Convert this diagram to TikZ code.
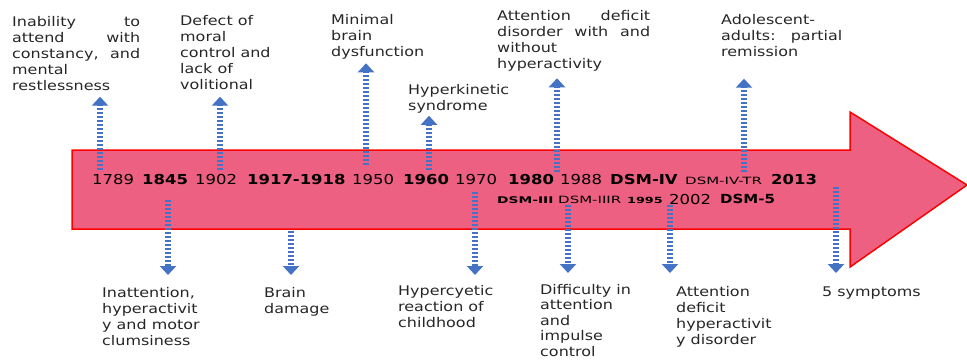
\documentclass[tikz,border=0pt]{standalone}
\usepackage{fontspec}
\setmainfont{DejaVu Sans}[FakeStretch=1.2]
\newfontfamily\scfont{DejaVu Sans}[FakeStretch=1.5]
\usetikzlibrary{arrows.meta}
\definecolor{tlpink}{RGB}{238,96,130}
\definecolor{dotblue}{RGB}{68,114,196}

\begin{document}
\begin{tikzpicture}[x=1pt,y=-1pt,
   lbl/.style={anchor=north west,inner sep=0pt,align=left,text=black!85,font=\fontsize{13.3}{16}\selectfont},
   yr/.style={anchor=base west,inner sep=0pt,font=\fontsize{13.7}{16}\selectfont},
   byr/.style={yr,font=\fontsize{13.7}{16}\selectfont\bfseries},
   dsm/.style={anchor=base west,inner sep=0pt,font=\scfont\fontsize{10}{12}\selectfont},
   bdsm/.style={dsm,font=\scfont\fontsize{9.2}{12}\selectfont\bfseries},
   dotarrow/.style={draw=dotblue,line width=5.5pt,dash pattern=on 2pt off 2pt,
      -{Triangle[width=16pt,length=9pt]},shorten >=#1},
   dotarrow/.default=6pt]
\useasboundingbox (0,0) rectangle (967,360);

% timeline arrow
\draw[fill=tlpink,draw=red,line width=1.5pt] (72,150) -- (850,150) -- (850,112) -- (967,185)
   -- (850,267) -- (850,229) -- (72,229) -- cycle;

% years
\node[yr]  (y1789) at (92,184)  {1789};
\node[byr] (y1845) at (142,184) {1845};
\node[yr]  (y1902) at (195,184) {1902};
\node[byr] (y1917) at (247,184) {1917-1918};
\node[yr]  (y1950) at (352,184) {1950};
\node[byr] (y1960) at (403,184) {1960};
\node[yr]  (y1970) at (455,184) {1970};
\node[byr] (y1980) at (508,184) {1980};
\node[yr]  (y1988) at (560,184) {1988};
\node[byr] (dsmiv) at (610,184) {DSM-IV};
\node[dsm] (dsmivtr) at (685,184) {DSM-IV-TR};
\node[byr] (y2013) at (771,184) {2013};
\node[bdsm] (dsmiii) at (497,203) {DSM-III};
\node[dsm] (dsmiiir) at (558,203) {DSM-IIIR};
\node[bdsm,font=\scfont\fontsize{8.5}{12}\selectfont\bfseries] (y1995) at (627,203) {1995};
\node[yr]  (y2002) at (669,204) {2002};
\node[byr,font=\fontsize{12.5}{16}\selectfont\bfseries] (dsm5) at (720,203) {DSM-5};

% labels above
\node[lbl,text width=128pt] (t1) at (12,16) {Inability\hfill to\\attend\hfill with\\constancy,\hfill and\\mental\\restlessness};
\node[lbl] (t2) at (180,15) {Defect of\\moral\\control and\\lack of\\volitional};
\node[lbl] (t3) at (331,14) {Minimal\\brain\\dysfunction};
\node[lbl] (t4) at (408,84.5) {Hyperkinetic\\syndrome};
\node[lbl,text width=153pt] (t5) at (497,10) {Attention\hfill deficit\\disorder\hfill with\hfill and\\without\\hyperactivity};
\node[lbl,text width=121pt] (t6) at (721,14) {Adolescent-\\adults:\hfill partial\\remission};

% labels below
\node[lbl] (b1) at (102,287) {Inattention,\\hyperactivit\\y and motor\\clumsiness};
\node[lbl] (b2) at (264,287) {Brain\\damage};
\node[lbl] (b3) at (398,285) {Hypercyetic\\reaction of\\childhood};
\node[lbl,font=\fontsize{13.3}{15.5}\selectfont] (b4) at (540,284) {Difficulty in\\attention\\and\\impulse\\control};
\node[lbl] (b5) at (676,286) {Attention\\deficit\\hyperactivit\\y disorder};
\node[lbl] (b6) at (822,287) {5 symptoms};

% arrows
\coordinate (u1) at (100,170);
\coordinate (u2) at (220,170);
\coordinate (u3) at (366,165);
\coordinate (u4) at (429,170);
\coordinate (u5) at (557,172);
\coordinate (u6) at (744,172);
\coordinate (d1) at (168,200);
\coordinate (d2) at (291,231);
\coordinate (d3) at (475,192);
\coordinate (d4) at (568,205);
\coordinate (d5) at (670,205);
\coordinate (d6) at (836,187);

\draw[dotarrow=6pt] (u1) -- (u1 |- t1.south);
\draw[dotarrow=7pt] (u2) -- (u2 |- t2.south);
\draw[dotarrow=4pt] (u3) -- (u3 |- t3.south);
\draw[dotarrow=2pt] (u4) -- (u4 |- t4.south);
\draw[dotarrow=7pt] (u5) -- (u5 |- t5.south);
\draw[dotarrow=22pt] (u6) -- (u6 |- t6.south);
\draw[dotarrow=12pt] (d1) -- (d1 |- b1.north);
\draw[dotarrow=12pt] (d2) -- (d2 |- b2.north);
\draw[dotarrow=10pt] (d3) -- (d3 |- b3.north);
\draw[dotarrow=11pt] (d4) -- (d4 |- b4.north);
\draw[dotarrow=13pt] (d5) -- (d5 |- b5.north);
\draw[dotarrow=14pt] (d6) -- (d6 |- b6.north);
\end{tikzpicture}
\end{document}
